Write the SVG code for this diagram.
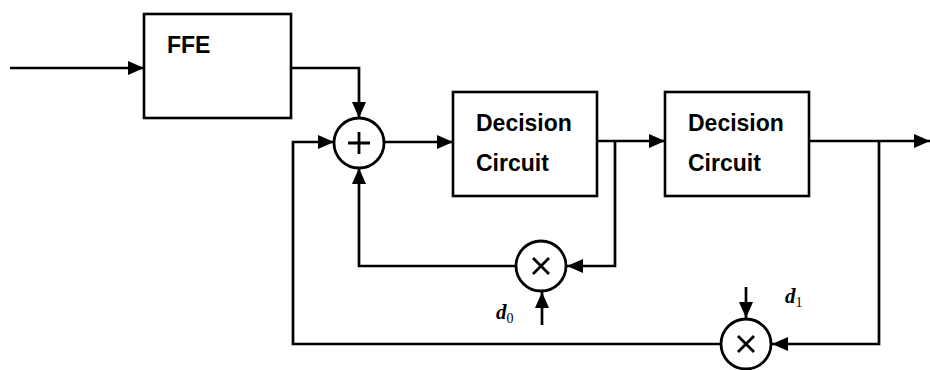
<svg xmlns="http://www.w3.org/2000/svg" width="930" height="370" viewBox="0 0 930 370">
<style>
.box{fill:#fff;stroke:#000;stroke-width:2.6}
.op{fill:#fff;stroke:#000;stroke-width:2.8}
.sym{fill:none;stroke:#000;stroke-width:2.8}
.wire{fill:none;stroke:#000;stroke-width:2.7}
.lbl{font-family:"Liberation Sans",Arial,sans-serif;font-size:23px;font-weight:bold;fill:#000}
.var{font-family:"Liberation Serif","Times New Roman",serif;font-style:italic;font-weight:bold;font-size:21px;fill:#000}
.sub{font-family:"Liberation Serif","Times New Roman",serif;font-size:14px;font-style:normal;font-weight:normal;fill:#000}
</style>
<defs>
<marker id="arr" markerUnits="userSpaceOnUse" markerWidth="16" markerHeight="14" refX="16" refY="7" orient="auto">
<path d="M0,0 L16,7 L0,14 z" fill="#000"/>
</marker>
</defs>
<rect width="930" height="370" fill="#fff"/>
<g id="connectors">
<path class="wire" d="M10,68 H144" marker-end="url(#arr)"/>
<path class="wire" d="M291,68 H359 V118" marker-end="url(#arr)"/>
<path class="wire" d="M384,142 H453" marker-end="url(#arr)"/>
<path class="wire" d="M597,141 H665" marker-end="url(#arr)"/>
<path class="wire" d="M809,141 H930" marker-end="url(#arr)"/>
<path class="wire" d="M615,141 V266 H567" marker-end="url(#arr)"/>
<path class="wire" d="M516,266 H359 V168" marker-end="url(#arr)"/>
<path class="wire" d="M542,325 V292" marker-end="url(#arr)"/>
<path class="wire" d="M879,141 V344 H772" marker-end="url(#arr)"/>
<path class="wire" d="M722,344 H293 V142 H334" marker-end="url(#arr)"/>
<path class="wire" d="M746,287 V318" marker-end="url(#arr)"/>
</g>
<g id="ffe">
<rect class="box" x="144" y="14" width="147" height="104"/>
<text class="lbl" x="167" y="53">FFE</text>
</g>
<g id="sum">
<circle class="op" cx="359" cy="143" r="25"/>
<path class="sym" d="M348,143 H370 M359,132 V154"/>
</g>
<g id="dc1">
<rect class="box" x="453" y="92" width="144" height="104"/>
<text class="lbl" x="476" y="131">Decision</text>
<text class="lbl" x="476" y="171">Circuit</text>
</g>
<g id="dc2">
<rect class="box" x="665" y="92" width="144" height="104"/>
<text class="lbl" x="688" y="131">Decision</text>
<text class="lbl" x="688" y="171">Circuit</text>
</g>
<g id="mul0">
<circle class="op" cx="541" cy="266" r="25"/>
<path class="sym" d="M533,258 L549,274 M549,258 L533,274"/>
<text class="var" x="496" y="319">d<tspan class="sub" dy="4">0</tspan></text>
</g>
<g id="mul1">
<circle class="op" cx="746" cy="344" r="25"/>
<path class="sym" d="M738,336 L754,352 M754,336 L738,352"/>
<text class="var" x="785" y="303">d<tspan class="sub" dy="4">1</tspan></text>
</g>
</svg>
